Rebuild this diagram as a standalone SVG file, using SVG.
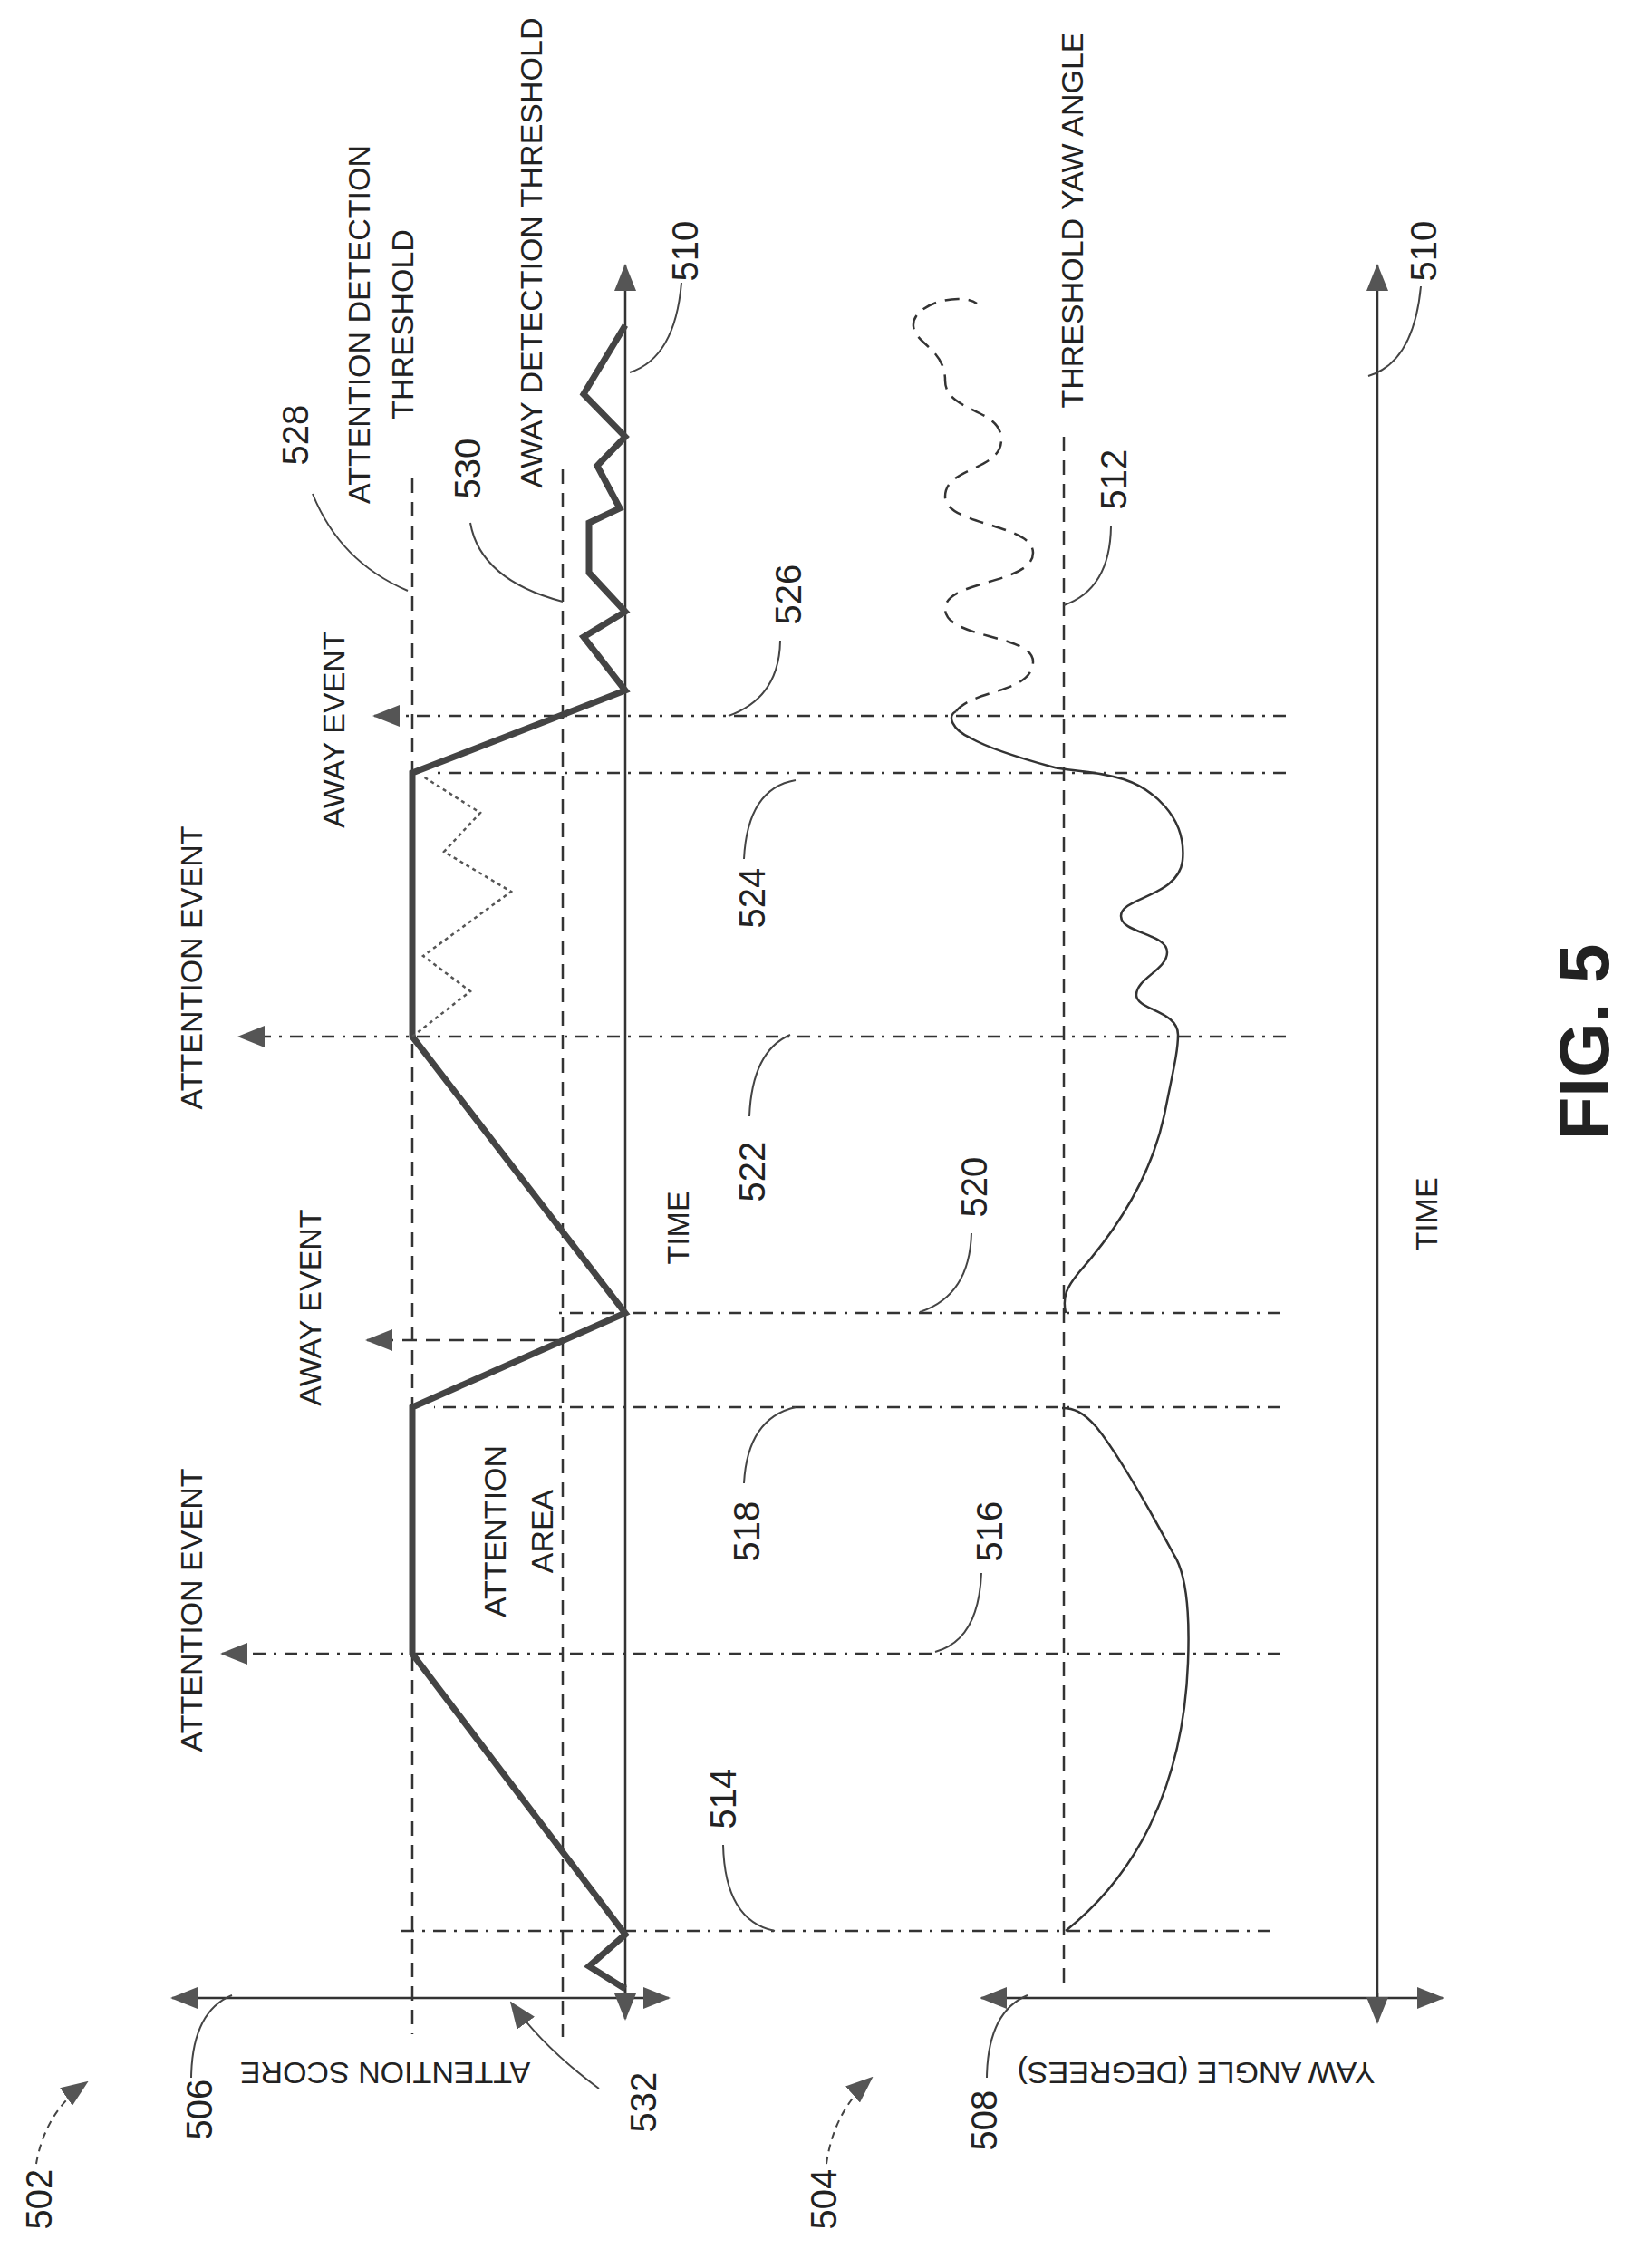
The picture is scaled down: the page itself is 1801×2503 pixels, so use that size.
<svg xmlns="http://www.w3.org/2000/svg" width="1801" height="2503" viewBox="0 0 1801 2503">
<style>
.ln{fill:none;stroke:#333;stroke-width:2.5}
.dd{fill:none;stroke:#333;stroke-width:2.5;stroke-dasharray:14 9 3 9}
.da{fill:none;stroke:#333;stroke-width:2.5;stroke-dasharray:16 10}
.ld{fill:none;stroke:#444;stroke-width:2}
.t{font-family:"Liberation Sans",Arial,sans-serif;font-size:34px;fill:#222;text-anchor:middle}
.n{font-family:"Liberation Sans",Arial,sans-serif;font-size:40px;fill:#222;text-anchor:middle}
.fig{font-family:"Liberation Sans",Arial,sans-serif;font-size:78px;font-weight:bold;fill:#222;text-anchor:middle}
</style>
<defs>
<marker id="ah" viewBox="0 0 30 24" refX="28" refY="12" markerWidth="30" markerHeight="24" markerUnits="userSpaceOnUse" orient="auto"><path d="M0,0 L30,12 L0,24 Z" fill="#555"/></marker>
</defs>
<rect width="1801" height="2503" fill="#fff"/>
<g id="connectors">
<line class="ln" x1="450" y1="2205" x2="190" y2="2205" marker-end="url(#ah)"/>
<line class="ln" x1="450" y1="2205" x2="738" y2="2205" marker-end="url(#ah)"/>
<line class="ln" x1="690" y1="2205" x2="690" y2="293" marker-end="url(#ah)"/>
<line class="ln" x1="690" y1="2190" x2="690" y2="2228" marker-end="url(#ah)"/>
<line class="ln" x1="1300" y1="2205" x2="1083" y2="2205" marker-end="url(#ah)"/>
<line class="ln" x1="1300" y1="2205" x2="1592" y2="2205" marker-end="url(#ah)"/>
<line class="ln" x1="1520" y1="2205" x2="1520" y2="293" marker-end="url(#ah)"/>
<line class="ln" x1="1520" y1="2200" x2="1520" y2="2232" marker-end="url(#ah)"/>
<line class="da" x1="455" y1="528" x2="455" y2="2245"/>
<line class="da" x1="621" y1="518" x2="621" y2="2248"/>
<line class="da" x1="1174" y1="482" x2="1174" y2="2196"/>
<line class="dd" x1="1419" y1="1144" x2="264" y2="1144" marker-end="url(#ah)"/>
<line class="dd" x1="1419" y1="790" x2="413" y2="790" marker-end="url(#ah)"/>
<line class="dd" x1="1419" y1="853" x2="479" y2="853"/>
<line class="dd" x1="1413" y1="1449" x2="616" y2="1449"/>
<line class="da" x1="616" y1="1479" x2="405" y2="1479" marker-end="url(#ah)"/>
<line class="dd" x1="1413" y1="1553" x2="479" y2="1553"/>
<line class="dd" x1="1413" y1="1825" x2="245" y2="1825" marker-end="url(#ah)"/>
<line class="dd" x1="1402" y1="2131" x2="439" y2="2131"/>
<polyline fill="none" stroke="#444" stroke-width="7" points="690,2195 650,2170 690,2135 455,1825 455,1553 690,1449 455,1144 455,853 690,762 644,703 690,675 650,632 650,577 684,561 659,514 690,482 644,435 690,359"/>
<polyline fill="none" stroke="#555" stroke-width="2.5" stroke-dasharray="4 4" points="455,1144 519,1094 467,1055 564,984 490,940 530,897 467,857"/>
<path class="ln" d="M1176,2131 C1240,2080 1305,1990 1311,1835 C1314,1760 1305,1730 1295,1715 C1260,1650 1230,1600 1210,1575 C1195,1558 1185,1554 1172,1554"/>
<path class="ln" d="M1176,1449 C1172,1430 1178,1420 1190,1405 C1230,1360 1270,1300 1285,1230 C1295,1180 1300,1160 1300,1142 C1300,1115 1254,1115 1254,1098 C1254,1080 1288,1070 1288,1051 C1288,1030 1237,1030 1237,1011 C1237,990 1300,990 1305,950 C1310,900 1270,870 1240,860 C1200,848 1180,852 1160,846 C1120,835 1090,825 1072,815 C1050,805 1045,790 1055,785"/>
<path class="ln" stroke-dasharray="16 10" d="M1055,785 C1075,760 1140,765 1140,730 C1140,700 1043,705 1043,672 C1043,640 1140,645 1140,610 C1140,578 1043,580 1043,548 C1043,515 1105,520 1105,485 C1105,450 1043,455 1043,420 C1043,385 1010,380 1008,360 C1006,335 1060,322 1078,335"/>
<path class="ld" d="M345,545 Q375,620 450,652"/>
<path class="ld" d="M519,577 Q530,640 621,664"/>
<path class="ld" d="M861,707 Q860,770 804,790"/>
<path class="ld" d="M878,861 Q825,870 821,948"/>
<path class="ld" d="M1226,581 Q1225,650 1174,668"/>
<path class="ld" d="M752,312 Q745,395 695,411"/>
<path class="ld" d="M1568,316 Q1560,400 1510,415"/>
<path class="ld" d="M872,1142 Q830,1160 827,1232"/>
<path class="ld" d="M1072,1361 Q1070,1430 1015,1448"/>
<path class="ld" d="M878,1553 Q825,1565 821,1637"/>
<path class="ld" d="M1083,1736 Q1080,1810 1032,1823"/>
<path class="ld" d="M798,2036 Q800,2120 855,2131"/>
<path class="ld" d="M256,2202 Q212,2220 211,2293"/>
<path class="ld" d="M661,2305 Q600,2260 564,2210" marker-end="url(#ah)"/>
<path class="ld" d="M1134,2202 Q1090,2220 1089,2293"/>
<path class="ld" stroke-dasharray="8 6" d="M40,2388 Q50,2330 96,2298" marker-end="url(#ah)"/>
<path class="ld" stroke-dasharray="8 6" d="M912,2388 Q920,2330 962,2293" marker-end="url(#ah)"/>
</g>
<g id="labels">
<text class="t" transform="translate(223,1068) rotate(-90)">ATTENTION EVENT</text>
<text class="t" transform="translate(380,805) rotate(-90)">AWAY EVENT</text>
<text class="t" transform="translate(354,1443) rotate(-90)">AWAY EVENT</text>
<text class="t" transform="translate(223,1777) rotate(-90)">ATTENTION EVENT</text>
<text class="t" transform="translate(408,358) rotate(-90)">ATTENTION DETECTION</text>
<text class="t" transform="translate(456,358) rotate(-90)">THRESHOLD</text>
<text class="t" transform="translate(598,279) rotate(-90)">AWAY DETECTION THRESHOLD</text>
<text class="t" transform="translate(1195,243) rotate(-90)">THRESHOLD YAW ANGLE</text>
<text class="t" transform="translate(558,1690) rotate(-90)">ATTENTION</text>
<text class="t" transform="translate(610,1690) rotate(-90)">AREA</text>
<text class="t" transform="translate(760,1355) rotate(-90)">TIME</text>
<text class="t" transform="translate(1586,1340) rotate(-90)">TIME</text>
<text class="t" transform="translate(425,2276) rotate(180)">ATTENTION SCORE</text>
<text class="t" transform="translate(1320,2276) rotate(180)">YAW ANGLE (DEGREES)</text>
<text class="n" transform="translate(812,1985) rotate(-90)">514</text>
<text class="n" transform="translate(1106,1690) rotate(-90)">516</text>
<text class="n" transform="translate(838,1690) rotate(-90)">518</text>
<text class="n" transform="translate(1089,1310) rotate(-90)">520</text>
<text class="n" transform="translate(844,1293) rotate(-90)">522</text>
<text class="n" transform="translate(844,991) rotate(-90)">524</text>
<text class="n" transform="translate(884,656) rotate(-90)">526</text>
<text class="n" transform="translate(340,480) rotate(-90)">528</text>
<text class="n" transform="translate(530,517) rotate(-90)">530</text>
<text class="n" transform="translate(1243,529) rotate(-90)">512</text>
<text class="n" transform="translate(770,277) rotate(-90)">510</text>
<text class="n" transform="translate(1585,277) rotate(-90)">510</text>
<text class="n" transform="translate(234,2328) rotate(-90)">506</text>
<text class="n" transform="translate(724,2320) rotate(-90)">532</text>
<text class="n" transform="translate(1100,2340) rotate(-90)">508</text>
<text class="n" transform="translate(57,2427) rotate(-90)">502</text>
<text class="n" transform="translate(923,2427) rotate(-90)">504</text>
<text class="fig" transform="translate(1775,1150) rotate(-90)">FIG. 5</text>
</g>
</svg>
